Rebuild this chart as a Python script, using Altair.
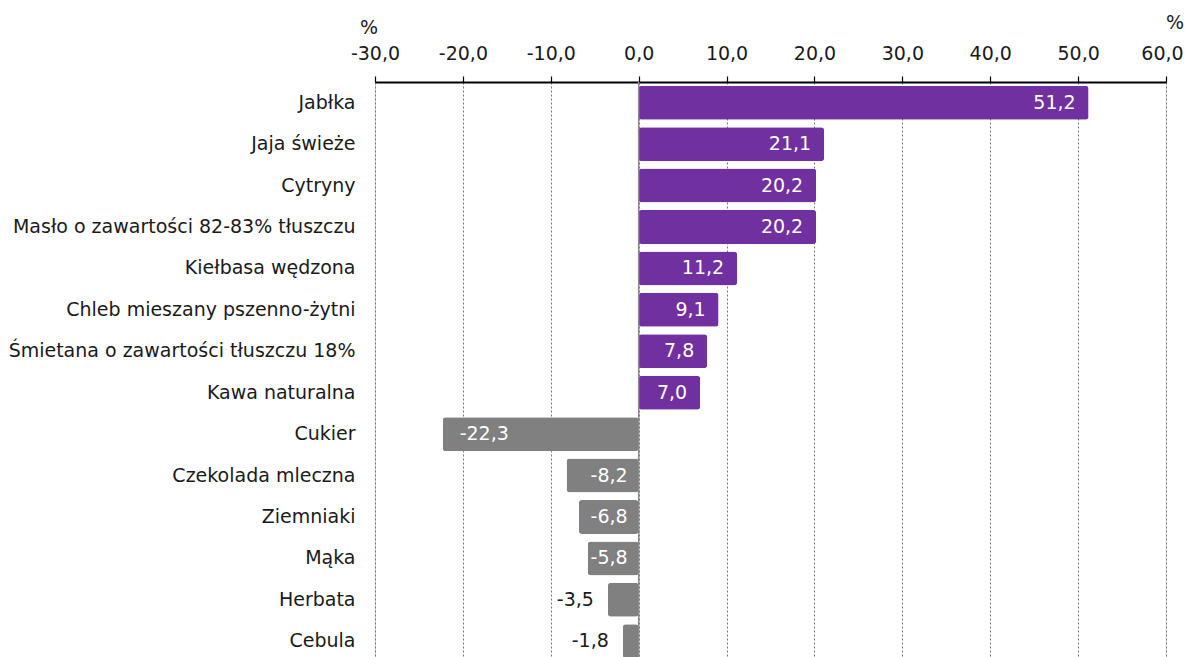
import altair as alt
import pandas as pd

categories = ["Jabłka", "Jaja świeże", "Cytryny", "Masło o zawartości 82-83% tłuszczu",
              "Kiełbasa wędzona", "Chleb mieszany pszenno-żytni",
              "Śmietana o zawartości tłuszczu 18%", "Kawa naturalna", "Cukier",
              "Czekolada mleczna", "Ziemniaki", "Mąka", "Herbata", "Cebula"]
values = [51.2, 21.1, 20.2, 20.2, 11.2, 9.1, 7.8, 7.0, -22.3, -8.2, -6.8, -5.8, -3.5, -1.8]
x_ticks = [-30, -20, -10, 0, 10, 20, 30, 40, 50, 60]

df = pd.DataFrame({"cat": categories, "value": values})
df["label"] = [f"{v:.1f}".replace(".", ",") for v in values]

FONT = "DejaVu Sans"
FS = 19
PURPLE = "#7030A0"
GREY = "#808080"

y_enc = alt.Y("cat:N", sort=categories, title=None,
              scale=alt.Scale(range=[0, 580], paddingInner=0.18, paddingOuter=0.09),
              axis=alt.Axis(labelFontSize=FS, labelColor="#1a1a1a", labelFont=FONT,
                            labelPadding=20, ticks=False, domain=False, labelLimit=420))

x_scale = alt.Scale(domain=[-30, 60], nice=False, zero=False)

base = alt.Chart(df)

bars = base.mark_bar(cornerRadius=3).encode(
    y=y_enc,
    x=alt.X("value:Q", scale=x_scale, title=None,
            axis=alt.Axis(orient="top", values=x_ticks, labelExpr="datum.value + ',0'",
                          labelFontSize=FS, labelFont=FONT, labelColor="#1a1a1a",
                          labelFlush=False, labelOverlap=False,
                          labelOffset={"condition": {"test": "datum.value == 60", "value": -4},
                                       "value": 0},
                          labelPadding=13, tickSize=6, tickColor="#000", tickWidth=1.2,
                          domainColor="#000", domainWidth=2,
                          grid=True, gridDash=[2, 2], gridColor="#777", gridWidth=1)),
    color=alt.condition(alt.datum.value > 0, alt.value(PURPLE), alt.value(GREY)),
)

zero = alt.Chart(pd.DataFrame({"z": [0]})).mark_rule(color="#8a8a8a", strokeWidth=1.5).encode(
    x=alt.X("z:Q", scale=x_scale))

pos_lab = base.transform_filter(alt.datum.value > 0).mark_text(
    align="right", baseline="middle", dx=-13, fontSize=FS, font=FONT, color="white"
).encode(y=alt.Y("cat:N", sort=categories), x=alt.X("value:Q", scale=x_scale), text="label:N")

big_neg = base.transform_filter(alt.datum.value < -15).mark_text(
    align="left", baseline="middle", dx=17, fontSize=FS, font=FONT, color="white"
).encode(y=alt.Y("cat:N", sort=categories), x=alt.X("value:Q", scale=x_scale), text="label:N")

mid_neg = base.transform_filter((alt.datum.value >= -15) & (alt.datum.value <= -5)).mark_text(
    align="right", baseline="middle", dx=-11, fontSize=FS, font=FONT, color="white"
).encode(y=alt.Y("cat:N", sort=categories), x=alt.datum(0), text="label:N")

small_neg = base.transform_filter((alt.datum.value > -5) & (alt.datum.value < 0)).mark_text(
    align="right", baseline="middle", dx=-14, fontSize=FS, font=FONT, color="#1a1a1a"
).encode(y=alt.Y("cat:N", sort=categories), x=alt.X("value:Q", scale=x_scale), text="label:N")

pct_left = alt.Chart(pd.DataFrame({"t": ["%"]})).mark_text(
    fontSize=FS, font=FONT, color="#1a1a1a", align="center", baseline="middle", dx=-6
).encode(x=alt.datum(-30), y=alt.value(-54), text="t:N")

pct_right = alt.Chart(pd.DataFrame({"t": ["%"]})).mark_text(
    fontSize=FS, font=FONT, color="#1a1a1a", align="center", baseline="middle", dx=9
).encode(x=alt.datum(60), y=alt.value(-59), text="t:N")

chart = alt.layer(bars, zero, pos_lab, big_neg, mid_neg, small_neg, pct_left, pct_right).properties(
    width=791, height=575,
    autosize=alt.AutoSizeParams(type="none"),
    padding={"left": 367, "top": 74, "right": 18, "bottom": 0},
).configure_view(stroke=None).configure(background="white")

chart.save("out.html", embed_options={"renderer": "svg", "actions": False})
